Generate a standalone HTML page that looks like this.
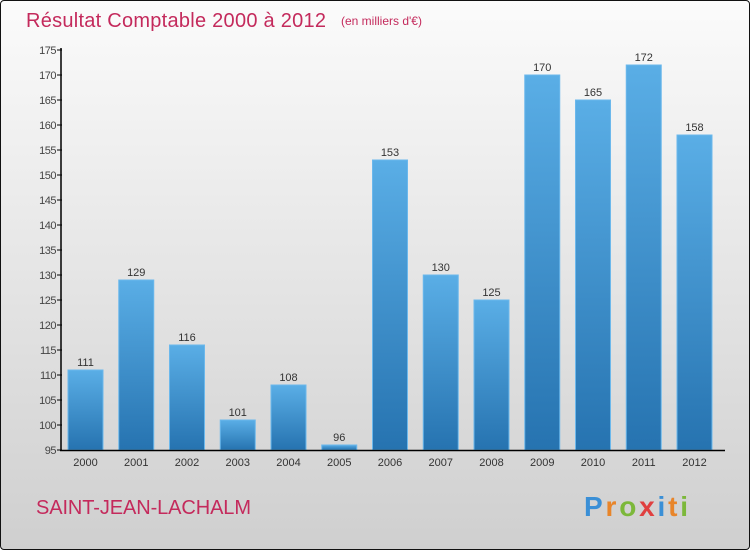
<!DOCTYPE html>
<html><head><meta charset="utf-8"><style>
body{margin:0;width:750px;height:550px;overflow:hidden;font-family:"Liberation Sans",sans-serif}
#c{position:absolute;left:0;top:0;width:748px;height:548px;border:1px solid #111;border-radius:4px;background:linear-gradient(#fbfbfb,#cfcfcf)}
</style></head><body>
<div id="c">
<svg width="750" height="550" style="position:absolute;left:-1px;top:-1px" id="svg">
<defs><linearGradient id="g" x1="0" y1="0" x2="0" y2="1"><stop offset="0" stop-color="#5aaee6"/><stop offset="1" stop-color="#2673b0"/></linearGradient></defs>
<text x="26" y="27" font-size="20" fill="#c42a5c" textLength="300">Résultat Comptable 2000 à 2012</text>
<text x="341" y="25" font-size="12" fill="#c42a5c">(en milliers d'€)</text>
<text x="36" y="514" font-size="20" fill="#c42a5c" textLength="215">SAINT-JEAN-LACHALM</text>
<text x="584" y="516" font-size="28" font-weight="bold" textLength="104"><tspan fill="#3a8fd6">P</tspan><tspan fill="#e8852a">r</tspan><tspan fill="#7cb83a">o</tspan><tspan fill="#e04040">x</tspan><tspan fill="#3a8fd6">i</tspan><tspan fill="#e8852a">t</tspan><tspan fill="#7cb83a">i</tspan></text>
<g id="plot"></g>
</svg></div>
<script>
const years=["2000","2001","2002","2003","2004","2005","2006","2007","2008","2009","2010","2011","2012"];
const values=[111,129,116,101,108,96,153,130,125,170,165,172,158];
const yTicks=[95,100,105,110,115,120,125,130,135,140,145,150,155,160,165,170,175];
const NS="http://www.w3.org/2000/svg",g=document.getElementById('plot');
const y=v=>450-(v-95)*5, x=i=>85.5+i*50.75;
function mk(t,a,txt){const e=document.createElementNS(NS,t);for(const k in a)e.setAttribute(k,a[k]);if(txt!=null)e.textContent=txt;g.appendChild(e);return e;}
yTicks.forEach(v=>{
 const l=mk('line',{x1:57,x2:62,y1:y(v),y2:y(v),stroke:'#000'});
 
 
 const t=mk('text',{x:56,y:y(v)+4,'font-size':11,fill:'#444','text-anchor':'end','letter-spacing':'-0.5'},v);
 
 
});
values.forEach((v,i)=>{
 const r=mk('rect',{x:x(i)-17.5,y:y(v),width:35,height:450-y(v),fill:'url(#g)',stroke:'#6bb8ec','stroke-width':1});
 
 
 const t=mk('text',{x:x(i),y:y(v)-4,'font-size':11,fill:'#333','text-anchor':'middle'},v);
 
 
 const yl=mk('text',{x:x(i),y:466,'font-size':11,fill:'#333','text-anchor':'middle'},years[i]);
 
 
});
const ya=mk('line',{x1:61,x2:61,y1:48,y2:451,stroke:'#000','stroke-width':1.5});


const xa=mk('line',{x1:60,x2:725,y1:450.5,y2:450.5,stroke:'#000','stroke-width':1.5});


</script>
</body></html>
